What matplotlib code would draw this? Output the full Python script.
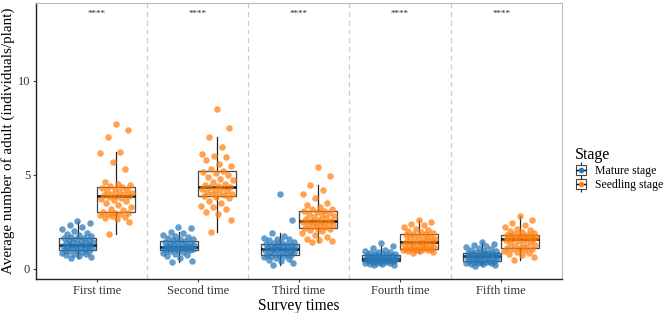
import matplotlib
matplotlib.use("Agg")
import matplotlib.pyplot as plt
from matplotlib.lines import Line2D
from matplotlib.legend_handler import HandlerTuple
import numpy as np

plt.rcParams['font.family'] = ['Liberation Serif', 'DejaVu Serif']

########################################################################
# data

times = ["First time", "Second time", "Third time", "Fourth time", "Fifth time"]
stages = ["Mature stage", "Seedling stage"]
signif = ["****", "****", "****", "****", "****"]

mature_1 = [0.55, 0.6, 0.65, 0.7, 0.75, 0.8, 0.85, 0.9, 0.93, 0.96, 0.99, 1.01,
            1.04, 1.07, 1.1, 1.13, 1.16, 1.18, 1.2, 1.22, 1.24, 1.26, 1.28,
            1.31, 1.34, 1.37, 1.4, 1.43, 1.46, 1.5, 1.54, 1.58, 1.62, 1.65,
            1.7, 1.75, 1.8, 1.85, 1.9, 2.0, 2.1, 2.2, 2.3, 2.45, 2.55]
seedling_1 = [1.85, 2.5, 2.65, 2.7, 2.75, 2.8, 2.85, 2.9, 2.93, 2.96, 2.98, 3.0,
              3.1, 3.2, 3.3, 3.4, 3.5, 3.6, 3.65, 3.7, 3.75, 3.8, 3.85,
              3.88, 3.9, 3.95, 4.0, 4.05, 4.1, 4.15, 4.2, 4.25, 4.3, 4.36,
              4.4, 4.45, 4.5, 4.6, 5.3, 5.7, 6.15, 6.2, 7.0, 7.4, 7.7]
mature_2 = [0.35, 0.4, 0.55, 0.65, 0.72, 0.78, 0.85, 0.9, 0.94, 0.97, 0.99, 1.0,
            1.02, 1.04, 1.06, 1.07, 1.08, 1.09, 1.1, 1.12, 1.13, 1.14, 1.15,
            1.17, 1.19, 1.21, 1.24, 1.27, 1.3, 1.33, 1.36, 1.39, 1.42, 1.45,
            1.5, 1.55, 1.6, 1.65, 1.7, 1.75, 1.8, 1.9, 1.97, 2.15, 2.2]
seedling_2 = [1.95, 2.6, 2.9, 3.0, 3.2, 3.3, 3.35, 3.5, 3.6, 3.75, 3.8, 3.85,
              3.9, 3.95, 4.0, 4.05, 4.1, 4.15, 4.2, 4.25, 4.3, 4.33, 4.36,
              4.4, 4.45, 4.5, 4.6, 4.7, 4.8, 4.9, 5.0, 5.1, 5.15, 5.2,
              5.3, 5.45, 5.6, 5.8, 5.95, 6.0, 6.1, 6.5, 7.0, 7.5, 8.5]
mature_3 = [0.17, 0.3, 0.4, 0.48, 0.53, 0.58, 0.62, 0.65, 0.68, 0.7, 0.72, 0.74,
            0.78, 0.82, 0.86, 0.9, 0.93, 0.95, 0.97, 0.99, 1.01, 1.03, 1.05,
            1.08, 1.1, 1.12, 1.14, 1.16, 1.18, 1.21, 1.24, 1.27, 1.3, 1.33,
            1.38, 1.42, 1.46, 1.5, 1.55, 1.6, 1.65, 1.75, 1.9, 2.6, 4.0]
seedling_3 = [1.4, 1.45, 1.5, 1.6, 1.7, 1.8, 1.9, 2.0, 2.05, 2.1, 2.13, 2.15,
              2.2, 2.25, 2.3, 2.34, 2.38, 2.42, 2.45, 2.48, 2.5, 2.53, 2.55,
              2.6, 2.65, 2.7, 2.75, 2.8, 2.85, 2.9, 2.95, 3.0, 3.05, 3.08,
              3.15, 3.2, 3.3, 3.4, 3.5, 3.75, 4.0, 4.2, 4.45, 4.95, 5.4]
mature_4 = [0.18, 0.2, 0.23, 0.26, 0.28, 0.3, 0.32, 0.34, 0.36, 0.38, 0.39, 0.4,
            0.42, 0.43, 0.44, 0.45, 0.46, 0.47, 0.48, 0.49, 0.5, 0.52, 0.53,
            0.55, 0.56, 0.58, 0.6, 0.61, 0.63, 0.65, 0.67, 0.69, 0.7, 0.72,
            0.75, 0.78, 0.8, 0.83, 0.86, 0.9, 0.95, 1.0, 1.1, 1.2, 1.35]
seedling_4 = [0.85, 0.9, 0.93, 0.96, 0.98, 1.0, 1.01, 1.02, 1.03, 1.04, 1.04, 1.05,
              1.08, 1.12, 1.16, 1.2, 1.24, 1.28, 1.3, 1.33, 1.36, 1.38, 1.4,
              1.43, 1.46, 1.5, 1.54, 1.58, 1.62, 1.66, 1.7, 1.74, 1.78, 1.82,
              1.86, 1.9, 1.95, 2.0, 2.05, 2.1, 2.2, 2.3, 2.4, 2.5, 2.6]
mature_5 = [0.15, 0.2, 0.22, 0.25, 0.28, 0.3, 0.32, 0.34, 0.35, 0.36, 0.37, 0.38,
            0.42, 0.46, 0.5, 0.53, 0.55, 0.57, 0.59, 0.61, 0.62, 0.64, 0.65,
            0.67, 0.69, 0.71, 0.72, 0.74, 0.76, 0.78, 0.8, 0.82, 0.84, 0.85,
            0.88, 0.92, 0.96, 1.0, 1.05, 1.1, 1.15, 1.2, 1.27, 1.33, 1.4]
seedling_5 = [0.45, 0.6, 0.7, 0.8, 0.85, 0.9, 0.95, 1.0, 1.03, 1.06, 1.08, 1.1,
              1.15, 1.2, 1.25, 1.3, 1.35, 1.4, 1.45, 1.5, 1.55, 1.58, 1.6,
              1.62, 1.64, 1.66, 1.68, 1.7, 1.72, 1.74, 1.76, 1.77, 1.78, 1.8,
              1.85, 1.9, 1.95, 2.0, 2.05, 2.1, 2.2, 2.3, 2.45, 2.6, 2.8]

mature = [mature_1, mature_2, mature_3, mature_4, mature_5]
seedling = [seedling_1, seedling_2, seedling_3, seedling_4, seedling_5]

########################################################################

colors = ["#2878b8", "#ff7f0e"]
dodge = 0.19
box_w = 0.375


def jitter(n, width):
    """deterministic spread of points across the box"""
    k = np.arange(n)
    return ((k * 0.6180339887 + 0.3) % 1.0 - 0.5) * width


def plot_group(ax, values, pos, color):
    ax.boxplot(values, positions=[pos], widths=box_w, showfliers=False,
               showcaps=False, patch_artist=True,
               boxprops=dict(facecolor="white", edgecolor="#444444", lw=0.9),
               whiskerprops=dict(color="#222222", lw=0.9),
               medianprops=dict(color="black", lw=1.8),
               zorder=2)
    x = pos + jitter(len(values), 0.32)
    ax.scatter(x, values, s=22, color=color, alpha=0.72, lw=0, zorder=3)


fig = plt.figure(figsize=(6.68, 3.13), dpi=100)
ax = fig.add_axes([0.054, 0.109, 0.787, 0.881])

xs = np.arange(1, len(times) + 1)
for i, x in enumerate(xs):
    plot_group(ax, mature[i], x - dodge, colors[0])
    plot_group(ax, seedling[i], x + dodge, colors[1])
    ax.text(x, 13.55, signif[i], ha="center", va="center", fontsize=6.5,
            color="#222222")

for x in xs[:-1] + 0.5:
    ax.axvline(x, color="#cccccc", ls=(0, (4, 3)), lw=0.9, zorder=1)

ax.set_xlim(0.4, 5.6)
ax.set_ylim(-0.55, 14.15)
ax.set_xticks(xs)
ax.set_xticklabels(times)
ax.set_yticks([0, 5, 10])
ax.tick_params(labelsize=9, colors="#444444", length=2.5, width=0.8,
               labelcolor="#333333", pad=1.8)
for side in ("top", "right"):
    ax.spines[side].set_color("#bbbbbb")
    ax.spines[side].set_linewidth(0.8)
for side in ("left", "bottom"):
    ax.spines[side].set_color("#222222")
    ax.spines[side].set_linewidth(1.0)

ax.set_xlabel("Survey times", fontsize=11.2, labelpad=0.5)
ax.set_ylabel("Average number of adult (individuals/plant)", fontsize=10.9,
              labelpad=2.0)

handles = []
for c in colors:
    handles.append((Line2D([], [], marker="|", ms=11, mec="#222222", mew=0.8,
                           ls="none"),
                    Line2D([], [], marker="s", ms=7, mfc="white", mec="#444444",
                           mew=0.8, ls="none"),
                    Line2D([], [], marker="_", ms=7, mec="black", mew=1.0,
                           ls="none"),
                    Line2D([], [], marker="o", ms=3, color=c, ls="none")))
leg = fig.legend(handles, stages, title="Stage", loc="center left",
                 bbox_to_anchor=(0.848, 0.46), frameon=False, fontsize=8.5,
                 title_fontsize=11.5, handler_map={tuple: HandlerTuple(ndivide=1)},
                 handlelength=1.0, handletextpad=0.7, labelspacing=0.2,
                 borderpad=0.2)
leg._legend_box.align = "left"

fig.savefig("out.png", dpi=100)
